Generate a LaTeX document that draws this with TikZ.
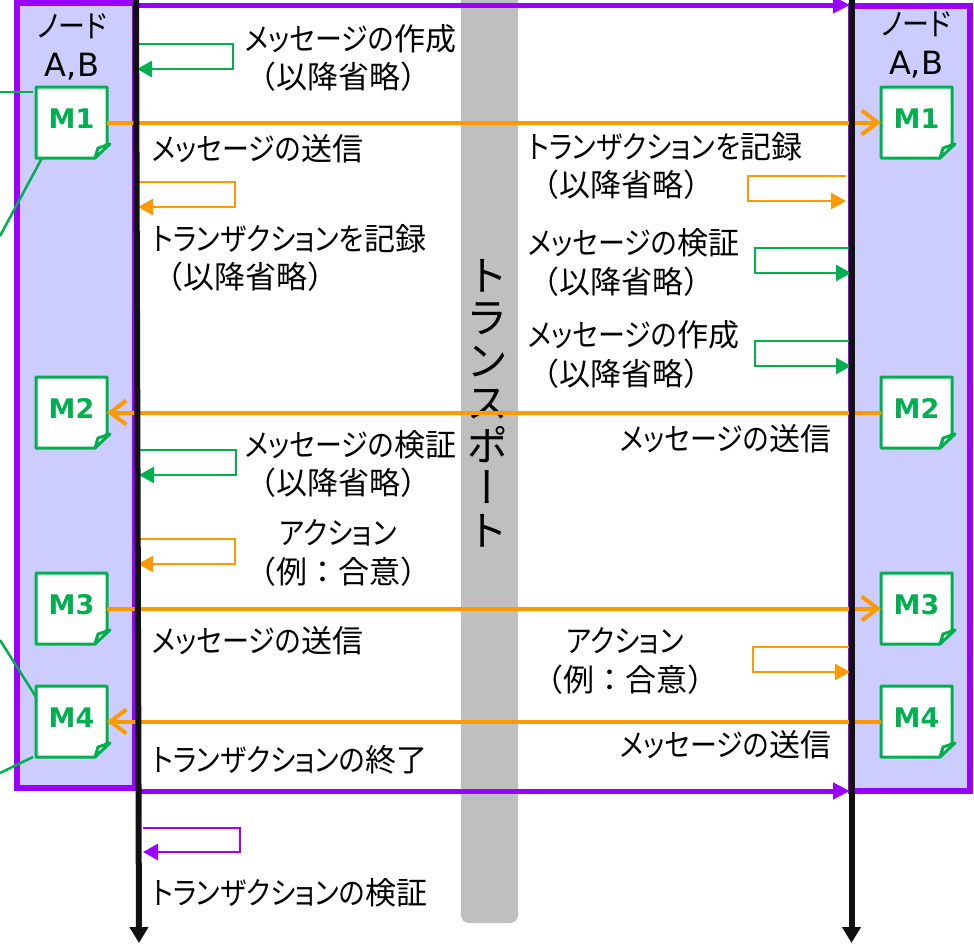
\documentclass[tikz,border=0pt]{standalone}
\usepackage{fontspec}
\setmainfont{Noto Sans CJK JP}
\newfontfamily\latinfont{DejaVu Sans}
\newfontfamily\tatefont[RawFeature=+vert]{Noto Sans CJK JP}
\newfontfamily\kanafont[RawFeature=+palt, FakeStretch=0.87]{Noto Sans CJK JP}
\newcommand{\kn}[1]{{\kanafont #1}}
\usetikzlibrary{arrows.meta}

\definecolor{msggreen}{HTML}{00B050}
\definecolor{msgorange}{HTML}{FF9900}
\definecolor{txpurple}{HTML}{9900FF}
\definecolor{panelblue}{HTML}{CCCCFF}
\definecolor{bandgrey}{HTML}{BFBFBF}
\definecolor{axisblack}{HTML}{111111}

\tikzset{
	panel/.style={draw=txpurple, fill=panelblue, line width=6pt, minimum width=118pt, minimum height=785pt, inner sep=0pt, outer sep=0pt},
	band/.style={fill=bandgrey, draw=none, rounded corners=8pt},
	msg/.style={minimum width=71pt, minimum height=71pt, inner sep=0pt, outer sep=0pt},
	msgbody/.style={draw=msggreen, fill=white, line width=3pt, line join=round},
	msgtext/.style={text=msggreen, font=\latinfont\bfseries\fontsize{27}{27}\selectfont, text height=20pt, text depth=8pt, inner sep=0pt},
	label/.style={font=\fontsize{31}{38.5}\selectfont, inner sep=0pt, text=black, yshift=-1pt},
	nodelabel/.style={label, align=center},
	sendline/.style={draw=msgorange, line width=4pt, -{Straight Barb[length=16pt,width=24pt,line width=4pt]}},
	stub/.style={draw=msggreen, line width=2.5pt},
	axisline/.style={draw=axisblack, line width=6pt, -{Triangle[length=16pt,width=18pt]}},
	txline/.style={draw=txpurple, line width=5pt, -{Triangle[length=17pt,width=16pt]}},
	selfgreen/.style={draw=msggreen, line width=2.75pt, -{Triangle[length=15pt,width=16pt]}},
	selforange/.style={draw=msgorange, line width=2.75pt, -{Triangle[length=15pt,width=16pt]}},
	selfpurple/.style={draw=txpurple, line width=2.75pt, -{Triangle[length=15pt,width=16pt]}}
}

% message sheet with folded corner
\newcommand{\msgsheet}[3]{
	\node[msg] (#1) at (#2) {};
	\draw[msgbody] (#1.north west) -- (#1.north east) -- ([yshift=14pt]#1.south east) -- ([xshift=-12pt]#1.south east) -- (#1.south west) -- cycle;
	\draw[msgbody] ([xshift=-12pt]#1.south east) -- ([shift={(-9pt,10pt)}]#1.south east) -- ([shift={(3pt,14pt)}]#1.south east) -- cycle;
	\node[msgtext] (#1t) at (#1) {#3};
}

\begin{document}
\begin{tikzpicture}[x=1pt, y=-1pt]
	\useasboundingbox (0,0) rectangle (974,943);

	% Panels
	\node[panel, anchor=north west] (nodeab) at (17,3) {};
	\node[panel, anchor=north west, minimum width=119pt] (nodecd) at (851,5.5) {};
	\node[nodelabel] (nameab) at (72,46) {\kn{ノード}\\\latinfont\fontsize{32}{38}\selectfont A,B};
	\node[nodelabel] (namecd) at (916,44) {\kn{ノード}\\\latinfont\fontsize{32}{38}\selectfont A,B};

	% Transport band
	\path[band] (461,-20) rectangle (518,923);
	\node[label, align=center, font=\tatefont\fontsize{42}{42.5}\selectfont] (transport) at (487,402) {ト\\ラ\\ン\\ス\\ポ\\ー\\ト};

	% Stubs from outside
	\coordinate (stuba) at (0,92);
	\coordinate (stubb) at (33,92);
	\coordinate (stubc) at (0,236);
	\coordinate (stubd) at (42,158);
	\coordinate (stube) at (0,640);
	\coordinate (stubf) at (36,697);
	\coordinate (stubg) at (0,773);
	\coordinate (stubh) at (33,757);
	\draw[stub] (stuba) -- (stubb);
	\draw[stub] (stubc) -- (stubd);
	\draw[stub] (stube) -- (stubf);
	\draw[stub] (stubg) -- (stubh);

	% Message sheets
	\msgsheet{ma}{71.5,122.5}{M1}
	\msgsheet{mb}{71.5,412.5}{M2}
	\msgsheet{mc}{71.5,608.5}{M3}
	\msgsheet{md}{71.5,721.5}{M4}
	\msgsheet{na}{916.5,122.5}{M1}
	\msgsheet{nb}{916.5,412.5}{M2}
	\msgsheet{nc}{916.5,608.5}{M3}
	\msgsheet{nd}{916.5,721.5}{M4}

	% Messages
	\draw[sendline] (ma.east) -- (na.west);
	\draw[sendline] (nb.west) -- (mb.east);
	\draw[sendline] (mc.east) -- (nc.west);
	\draw[sendline] (nd.west) -- (md.east);

	% Transaction start and end
	\coordinate (txa) at (137,5);
	\coordinate (txb) at (850,5);
	\coordinate (txc) at (137,791);
	\coordinate (txd) at (850,791);
	\draw[txline] (txa) -- (txb);
	\draw[txline] (txc) -- (txd);

	% Self arrows left
	\coordinate (la) at (137,44);
	\coordinate (lb) at (137,69);
	\draw[selfgreen] (la) -- (233,44) -- (233,69) -- (lb);
	\coordinate (lc) at (138,182);
	\coordinate (ld) at (138,207);
	\draw[selforange] (lc) -- (235,182) -- (235,207) -- (ld);
	\coordinate (le) at (139,450);
	\coordinate (lf) at (139,475);
	\draw[selfgreen] (le) -- (236,450) -- (236,475) -- (lf);
	\coordinate (lg) at (138,539);
	\coordinate (lh) at (138,564);
	\draw[selforange] (lg) -- (235,539) -- (235,564) -- (lh);
	\coordinate (li) at (143,828);
	\coordinate (lj) at (143,852);
	\draw[selfpurple] (li) -- (240,828) -- (240,852) -- (lj);

	% Self arrows right
	\coordinate (ra) at (846,176);
	\coordinate (rb) at (846,201);
	\draw[selforange] (ra) -- (748,176) -- (748,201) -- (rb);
	\coordinate (rc) at (851,248);
	\coordinate (rd) at (851,273);
	\draw[selfgreen] (rc) -- (755,248) -- (755,273) -- (rd);
	\coordinate (re) at (851,341);
	\coordinate (rf) at (851,366);
	\draw[selfgreen] (re) -- (755,341) -- (755,366) -- (rf);
	\coordinate (rg) at (850,647);
	\coordinate (rh) at (850,672);
	\draw[selforange] (rg) -- (753,647) -- (753,672) -- (rh);

	% Time axes
	\coordinate (axa) at (136,-5);
	\coordinate (axb) at (139,943);
	\coordinate (axc) at (851.5,-5);
	\coordinate (axd) at (851.5,943);
	\draw[axisline] (axa) -- (axb);
	\draw[axisline] (axc) -- (axd);

	% Labels left
	\node[label, anchor=west, align=left] (lta) at (245,57) {\kn{メッセージの}作成\\（以降省略）};
	\node[label, anchor=west] (ltb) at (152,148) {\kn{メッセージの}送信};
	\node[label, anchor=west, align=left] (ltc) at (152,257) {\kn{トランザクションを}記録\\（以降省略）};
	\node[label, anchor=west, align=left] (ltd) at (245,463) {\kn{メッセージの}検証\\（以降省略）};
	\node[label, align=center] (lte) at (338,552) {\kn{アクション}\\（例：合意）};
	\node[label, anchor=west] (ltf) at (152,640) {\kn{メッセージの}送信};
	\node[label, anchor=west] (ltg) at (152,759) {\kn{トランザクションの}終了};
	\node[label, anchor=west] (lth) at (152,892) {\kn{トランザクションの}検証};

	% Labels right
	\node[label, anchor=west, align=left] (rta) at (528,165) {\kn{トランザクションを}記録\\（以降省略）};
	\node[label, anchor=west, align=left] (rtb) at (528,261.5) {\kn{メッセージの}検証\\（以降省略）};
	\node[label, anchor=west, align=left] (rtc) at (528,353.5) {\kn{メッセージの}作成\\（以降省略）};
	\node[label, anchor=west] (rtd) at (620,438) {\kn{メッセージの}送信};
	\node[label, align=center] (rte) at (625,660) {\kn{アクション}\\（例：合意）};
	\node[label, anchor=west] (rtf) at (620,744) {\kn{メッセージの}送信};
\end{tikzpicture}
\end{document}
